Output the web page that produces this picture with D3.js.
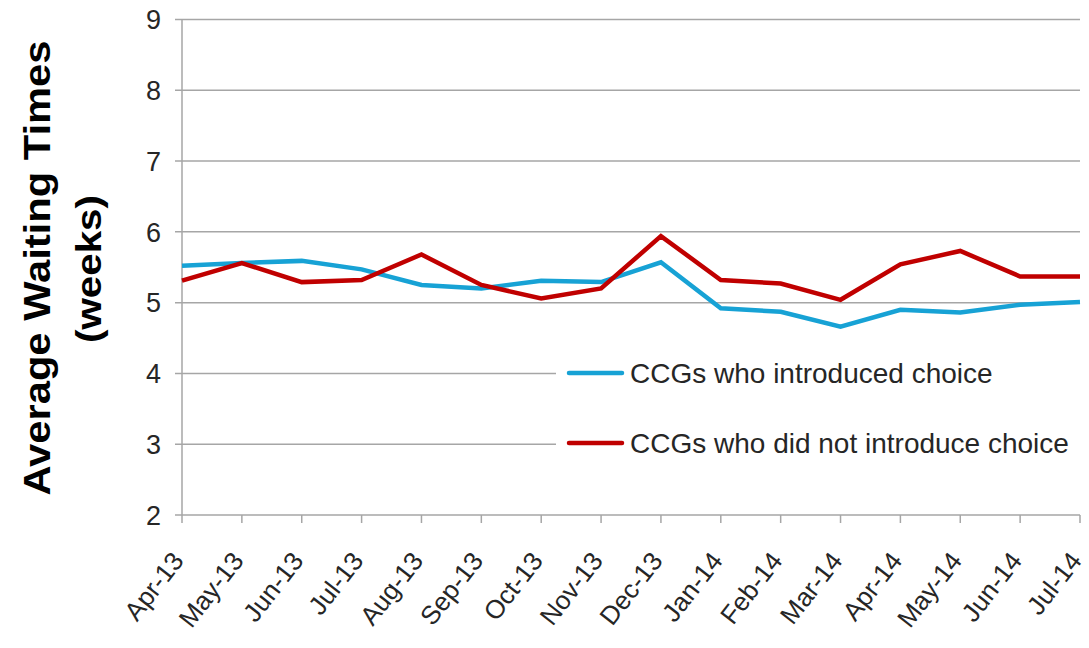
<!DOCTYPE html>
<html>
<head>
<meta charset="utf-8">
<script src="https://cdn.jsdelivr.net/npm/d3@7"></script>
<style>
  html, body { margin: 0; padding: 0; background: #fff; }
  svg { display: block; font-family: "Liberation Sans", Arial, sans-serif; }
</style>
</head>
<body>
<svg id="chart" width="1089" height="648"></svg>
<script>
// Monthly average waiting times (weeks)
const months = ["Apr-13","May-13","Jun-13","Jul-13","Aug-13","Sep-13","Oct-13","Nov-13",
                "Dec-13","Jan-14","Feb-14","Mar-14","Apr-14","May-14","Jun-14","Jul-14"];
const introducedChoice = [5.52,5.56,5.59,5.47,5.25,5.20,5.31,5.29,5.57,4.92,4.87,4.66,4.90,4.86,4.97,5.01];
const noChoice         = [5.31,5.56,5.29,5.32,5.68,5.25,5.06,5.20,5.94,5.32,5.27,5.04,5.54,5.73,5.37,5.37];
const yTicks = [2,3,4,5,6,7,8,9];
const seriesNames = ["CCGs who introduced choice","CCGs who did not introduce choice"];
const seriesColors = ["#17a2d5","#c00000"];

const svg = d3.select("#chart");
const plotLeft = 182, plotRight = 1080, plotTop = 19.5, plotBottom = 515;

const x = d3.scalePoint().domain(months).range([plotLeft, plotRight]).padding(0);
const y = d3.scaleLinear().domain([2, 9]).range([plotBottom, plotTop]);

const gridColor = "#a6a6a6";
const textColor = "#262626";

// Horizontal gridlines
svg.append("g")
  .selectAll("line")
  .data(yTicks)
  .join("line")
  .attr("x1", plotLeft - 7).attr("x2", plotRight)
  .attr("y1", d => y(d)).attr("y2", d => y(d))
  .attr("stroke", gridColor).attr("stroke-width", 1.5);

// Y axis line
svg.append("line")
  .attr("x1", plotLeft).attr("x2", plotLeft)
  .attr("y1", y(9)).attr("y2", y(2))
  .attr("stroke", gridColor).attr("stroke-width", 1.5);

// Y tick labels
svg.append("g")
  .selectAll("text")
  .data(yTicks)
  .join("text")
  .attr("x", plotLeft - 21)
  .attr("y", d => y(d))
  .attr("dy", "0.36em")
  .attr("text-anchor", "end")
  .attr("font-size", 27)
  .attr("fill", textColor)
  .text(d => d);

// X tick marks
svg.append("g")
  .selectAll("line")
  .data(months)
  .join("line")
  .attr("x1", d => x(d)).attr("x2", d => x(d))
  .attr("y1", plotBottom).attr("y2", plotBottom + 8)
  .attr("stroke", gridColor).attr("stroke-width", 1.5);

// X tick labels, slanted
svg.append("g")
  .selectAll("text")
  .data(months)
  .join("text")
  .attr("transform", d => `translate(${x(d) + 3},${plotBottom + 46}) rotate(-52)`)
  .attr("text-anchor", "end")
  .attr("font-size", 26)
  .attr("fill", textColor)
  .text(d => d);

// Legend box masks the gridlines behind it
svg.append("rect")
  .attr("x", 556).attr("y", 352)
  .attr("width", plotRight - 556 + 4).attr("height", 112)
  .attr("fill", "#fff");

// Series lines
const line = d3.line()
  .x((d, i) => x(months[i]))
  .y(d => y(d));

[introducedChoice, noChoice].forEach((vals, k) => {
  svg.append("path")
    .datum(vals)
    .attr("d", line)
    .attr("fill", "none")
    .attr("stroke", seriesColors[k])
    .attr("stroke-width", 4.5)
    .attr("stroke-linejoin", "miter");
});

// Legend
const legendY = [373, 443];
seriesNames.forEach((name, k) => {
  svg.append("line")
    .attr("x1", 569).attr("x2", 622)
    .attr("y1", legendY[k]).attr("y2", legendY[k])
    .attr("stroke", seriesColors[k])
    .attr("stroke-width", 4.5)
    .attr("stroke-linecap", "round");
  svg.append("text")
    .attr("x", 630).attr("y", legendY[k])
    .attr("dy", "0.36em")
    .attr("font-size", 28)
    .attr("fill", textColor)
    .text(name);
});

// Y axis title, two rotated lines
svg.append("text")
  .attr("transform", "translate(50,268) rotate(-90)")
  .attr("text-anchor", "middle")
  .attr("font-weight", "bold")
  .attr("font-size", 37)
  .attr("textLength", 455)
  .attr("lengthAdjust", "spacingAndGlyphs")
  .attr("fill", "#000")
  .text("Average Waiting Times");
svg.append("text")
  .attr("transform", "translate(101,269) rotate(-90)")
  .attr("text-anchor", "middle")
  .attr("font-weight", "bold")
  .attr("font-size", 35)
  .attr("textLength", 148)
  .attr("lengthAdjust", "spacingAndGlyphs")
  .attr("fill", "#000")
  .text("(weeks)");
</script>
</body>
</html>
